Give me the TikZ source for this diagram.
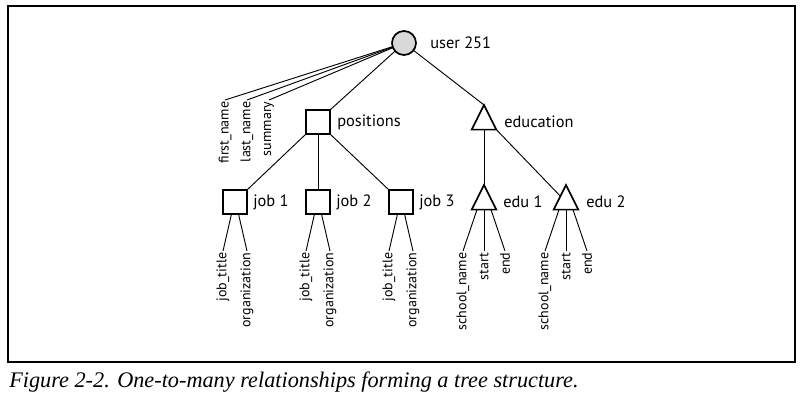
\documentclass[tikz,border=0pt]{standalone}
\usepackage{fontspec}
\setsansfont{PT Sans}
\setmainfont{Liberation Serif}
\usetikzlibrary{shapes.geometric,calc}

\tikzset{
  conn/.style={line width=0.7pt},
  objnode/.style={draw,line width=1.3pt,circle,fill=gray!30,minimum size=18pt,inner sep=0pt,outer sep=0pt},
  listnode/.style={draw,line width=1.3pt,rectangle,minimum size=18pt,inner sep=0pt,outer sep=0pt},
  setnode/.style={draw,line width=1.3pt,isosceles triangle,isosceles triangle stretches,shape border rotate=90,minimum width=18.5pt,minimum height=18.5pt,inner sep=0pt,outer sep=0pt},
  namelbl/.style={anchor=west,inner sep=0.75pt,font=\sffamily\fontsize{12.3}{14}\selectfont},
  leaflbl/.style={rotate=90,anchor=east,inner sep=1pt,font=\sffamily\fontsize{10.5}{12}\selectfont}
}

\begin{document}
\begin{tikzpicture}[x=0.75pt,y=0.75pt,yscale=-1,xscale=1]
\useasboundingbox (0,0) rectangle (809,412);

%Shape: Rectangle [id:frame]
\draw [line width=1pt] (8,6) rectangle (795,362);

%Shape: Circle [id:user]
\node [objnode] (user) at (404,43) {};
%Shape: Square [id:positions]
\node [listnode] (positions) at (318,122) {};
%Shape: Triangle [id:education]
\node [setnode] (education) at (484,122) {};
%Shape: Square [id:job1]
\node [listnode] (job1) at (235,202) {};
%Shape: Square [id:job2]
\node [listnode] (job2) at (318,202) {};
%Shape: Square [id:job3]
\node [listnode] (job3) at (401,202) {};
%Shape: Triangle [id:edu1]
\node [setnode] (edu1) at (484,202) {};
%Shape: Triangle [id:edu2]
\node [setnode] (edu2) at (566,202) {};

% Text Node
\node [namelbl] (userlbl) at (429,43) {user 251};
% Text Node
\node [namelbl] (positionslbl) at (336,122) {positions};
% Text Node
\node [namelbl] (educationlbl) at (503,122) {education};
% Text Node
\node [namelbl] (job1lbl) at (252,202) {job 1};
% Text Node
\node [namelbl] (job2lbl) at (335,202) {job 2};
% Text Node
\node [namelbl] (job3lbl) at (418,202) {job 3};
% Text Node
\node [namelbl] (edu1lbl) at (502,202) {edu 1};
% Text Node
\node [namelbl] (edu2lbl) at (585,202) {edu 2};

% Text Node
\node [leaflbl] (firstname) at (225,100) {first\_name};
% Text Node
\node [leaflbl] (lastname) at (247,100) {last\_name};
% Text Node
\node [leaflbl] (summary) at (269,100) {summary};
% Text Node
\node [leaflbl] (jobtitle1) at (223,251) {job\_title};
% Text Node
\node [leaflbl] (org1) at (247,251) {organization};
% Text Node
\node [leaflbl] (jobtitle2) at (306,251) {job\_title};
% Text Node
\node [leaflbl] (org2) at (330,251) {organization};
% Text Node
\node [leaflbl] (jobtitle3) at (389,251) {job\_title};
% Text Node
\node [leaflbl] (org3) at (413,251) {organization};
% Text Node
\node [leaflbl] (school1) at (463,251) {school\_name};
% Text Node
\node [leaflbl] (start1) at (484,251) {start};
% Text Node
\node [leaflbl] (end1) at (505,251) {end};
% Text Node
\node [leaflbl] (school2) at (545,251) {school\_name};
% Text Node
\node [leaflbl] (start2) at (566,251) {start};
% Text Node
\node [leaflbl] (end2) at (587,251) {end};

%Straight Lines [id:tree]
\draw [conn] (user) -- (positions.north east);
\draw [conn] (user) -- (education.apex);
\draw [conn] (positions.south west) -- (job1.north east);
\draw [conn] (positions) -- (job2);
\draw [conn] (positions.south east) -- (job3.north west);
\draw [conn] (education) -- (edu1);
\draw [conn] (education.right corner) -- (edu2);

%Straight Lines [id:leaves]
\draw [conn] (user) -- (firstname.east);
\draw [conn] (user) -- (lastname.east);
\draw [conn] (user) -- (summary.east);
\draw [conn] ($(job1.south)+(-3.5,0)$) -- (jobtitle1.east);
\draw [conn] ($(job1.south)+(3.5,0)$) -- (org1.east);
\draw [conn] ($(job2.south)+(-3.5,0)$) -- (jobtitle2.east);
\draw [conn] ($(job2.south)+(3.5,0)$) -- (org2.east);
\draw [conn] ($(job3.south)+(-3.5,0)$) -- (jobtitle3.east);
\draw [conn] ($(job3.south)+(3.5,0)$) -- (org3.east);
\draw [conn] ($(edu1.lower side)+(-7,0)$) -- (school1.east);
\draw [conn] (edu1.lower side) -- (start1.east);
\draw [conn] ($(edu1.lower side)+(7,0)$) -- (end1.east);
\draw [conn] ($(edu2.lower side)+(-7,0)$) -- (school2.east);
\draw [conn] (edu2.lower side) -- (start2.east);
\draw [conn] ($(edu2.lower side)+(7,0)$) -- (end2.east);

% Text Node
\node [anchor=west,inner sep=0pt,font=\itshape\fontsize{16.7}{19}\selectfont] (caption) at (9,382) {Figure 2-2. One-to-many relationships forming a tree structure.};

\end{tikzpicture}
\end{document}
